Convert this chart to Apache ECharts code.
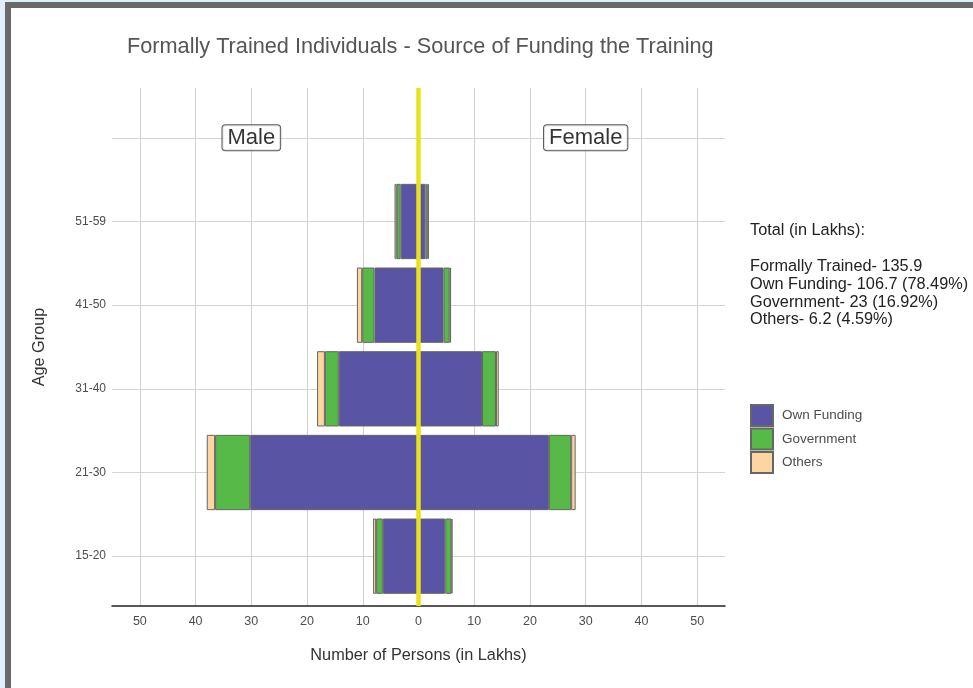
<!DOCTYPE html>
<html>
<head>
<meta charset="utf-8">
<title>Formally Trained Individuals</title>
<script src="https://cdn.jsdelivr.net/npm/echarts@6/dist/echarts.min.js"></script>
<style>
  body { margin: 0; }
  #frame { position: absolute; left: 0; top: 0; width: 973px; height: 688px; background: #dff0fa; }
  #paper { position: absolute; left: 5px; top: 2px; width: 962px; height: 680px;
           border-left: 6px solid #6a6a6a; border-top: 6px solid #6a6a6a; background: #fff; }
  #main { position: absolute; left: 0; top: 0; width: 973px; height: 688px; }
</style>
</head>
<body>
<div id="frame"><div id="paper"></div></div>
<div id="main"></div>
<script type="text/javascript">
// age groups, the empty top one holds the Male / Female tags
var ageGroups = ['15-20', '21-30', '31-40', '41-50', '51-59', ''];

// lakhs of persons
var maleOwn      = [6.4, 30.2, 14.3, 7.9, 3.2, null];
var maleGov      = [1.2, 6.3, 2.5, 2.2, 0.7, null];
var maleOthers   = [0.55, 1.5, 1.4, 0.95, 0.4, null];
var femaleOwn    = [4.8, 23.4, 11.4, 4.5, 1.25, null];
var femaleGov    = [1.1, 4.0, 2.5, 1.1, 0.4, null];
var femaleOthers = [0.2, 0.8, 0.5, 0.25, 0.2, null];

var sources = ['Own Funding', 'Government', 'Others'];
var sexTags = ['Male', 'Female'];
var sexTagX = [-30, 30];

var totalsTitle = 'Total (in Lakhs):';
var totalsLines = [
    'Formally Trained- 135.9',
    'Own Funding- 106.7 (78.49%)',
    'Government- 23 (16.92%)',
    'Others- 6.2 (4.59%)'
];

var colors = ['#5954a3', '#57b947', '#fdd5a0'];
var font = '"Liberation Sans", Arial, sans-serif';

function neg(arr) {
    return arr.map(function (v) { return v == null ? null : -v; });
}

var chart = echarts.init(document.getElementById('main'));

function barSeries(name, data, colorIndex) {
    return {
        name: name,
        type: 'bar',
        xAxisIndex: 1,
        yAxisIndex: 1,
        stack: 'pyramid',
        barWidth: '90%',
        data: data,
        itemStyle: { color: colors[colorIndex], borderColor: '#666', borderWidth: 1 },
        emphasis: { disabled: true },
        z: 3
    };
}

var option = {
    color: colors,
    textStyle: { fontFamily: font },
    animation: false,
    title: {
        text: 'Formally Trained Individuals - Source of Funding the Training',
        left: 122,
        top: 31,
        textStyle: { fontSize: 21.7, fontWeight: 'normal', color: '#555', fontFamily: font }
    },
    legend: {
        data: sources,
        orient: 'vertical',
        left: 750,
        top: 404,
        padding: 0,
        itemWidth: 22,
        itemHeight: 21,
        itemGap: 0.5,
        icon: 'rect',
        selectedMode: false,
        textStyle: { fontSize: 13.5, lineHeight: 21, color: '#4d4d4d', fontFamily: font, padding: [0, 0, 0, 4] }
    },
    graphic: [
        {
            type: 'text', left: 750, top: 223,
            style: { text: totalsTitle, font: '16.3px ' + font, fill: '#222' }
        },
        {
            type: 'text', left: 750, top: 258,
            style: { text: totalsLines.join('\n'), font: '16.3px ' + font, fill: '#222', lineHeight: 17.7 }
        }
    ],
    grid: [
        { left: 112, top: 88, width: 613, height: 518 },
        { left: 112, top: 96, width: 613, height: 502 }
    ],
    xAxis: [
        {
            type: 'value',
            gridIndex: 0,
            min: -55,
            max: 55,
            splitNumber: 11,
            minInterval: 10,
            maxInterval: 10,
            name: 'Number of Persons (in Lakhs)',
            nameLocation: 'middle',
            nameGap: 42,
            nameTextStyle: { fontSize: 16.3, color: '#333', fontFamily: font },
            axisLine: { show: true, onZero: false, lineStyle: { color: '#222', width: 1.5 } },
            axisTick: { show: false },
            axisLabel: {
                margin: 9, fontSize: 12.5, color: '#4d4d4d', fontFamily: font,
                showMinLabel: false, showMaxLabel: false,
                formatter: function (v) { return Math.abs(v); }
            },
            splitLine: { show: true, showMinLine: false, showMaxLine: false,
                         lineStyle: { color: '#d4d4d4', width: 1.2 } }
        },
        {
            type: 'value',
            gridIndex: 1,
            min: -55,
            max: 55,
            show: false,
            axisLine: { onZero: false },
            splitLine: { show: false }
        }
    ],
    yAxis: [
        {
            type: 'value',
            gridIndex: 0,
            min: -0.6,
            max: 5.6,
            splitNumber: 6,
            minInterval: 1,
            maxInterval: 1,
            axisLine: { show: false, onZero: false },
            axisTick: { show: false },
            axisLabel: { show: false },
            splitLine: { show: true, showMinLine: false, showMaxLine: false,
                         lineStyle: { color: '#d4d4d4', width: 1.2 } }
        },
        {
            type: 'category',
            gridIndex: 1,
            data: ageGroups,
            name: 'Age Group',
            nameLocation: 'middle',
            nameGap: 64,
            nameTextStyle: { fontSize: 16.3, color: '#333', fontFamily: font },
            axisLine: { show: false, onZero: false },
            axisTick: { show: false },
            axisLabel: { margin: 6, fontSize: 12, color: '#4d4d4d', fontFamily: font },
            splitLine: { show: false }
        }
    ],
    series: [
        barSeries(sources[0], neg(maleOwn), 0),
        barSeries(sources[1], neg(maleGov), 1),
        barSeries(sources[2], neg(maleOthers), 2),
        barSeries(sources[0], femaleOwn, 0),
        barSeries(sources[1], femaleGov, 1),
        barSeries(sources[2], femaleOthers, 2),
        {
            name: 'zero',
            type: 'line',
            xAxisIndex: 0,
            yAxisIndex: 0,
            data: [],
            z: 10,
            silent: true,
            markLine: {
                silent: true,
                symbol: ['none', 'none'],
                label: { show: false },
                lineStyle: { color: '#e8e21c', width: 4.5, type: 'solid' },
                data: [{ xAxis: 0 }]
            }
        },
        {
            name: 'tags',
            type: 'scatter',
            xAxisIndex: 1,
            yAxisIndex: 1,
            symbolSize: 0,
            silent: true,
            z: 11,
            data: sexTags.map(function (t, i) { return { name: t, value: [sexTagX[i], ageGroups.length - 1] }; }),
            label: {
                show: true,
                position: 'inside',
                formatter: '{b}',
                fontSize: 22,
                color: '#000',
                fontFamily: font,
                backgroundColor: '#fff',
                borderColor: '#333',
                borderWidth: 1,
                borderRadius: 3,
                padding: [2, 5, 1, 5]
            }
        }
    ]
};

chart.setOption(option);
</script>
</body>
</html>
